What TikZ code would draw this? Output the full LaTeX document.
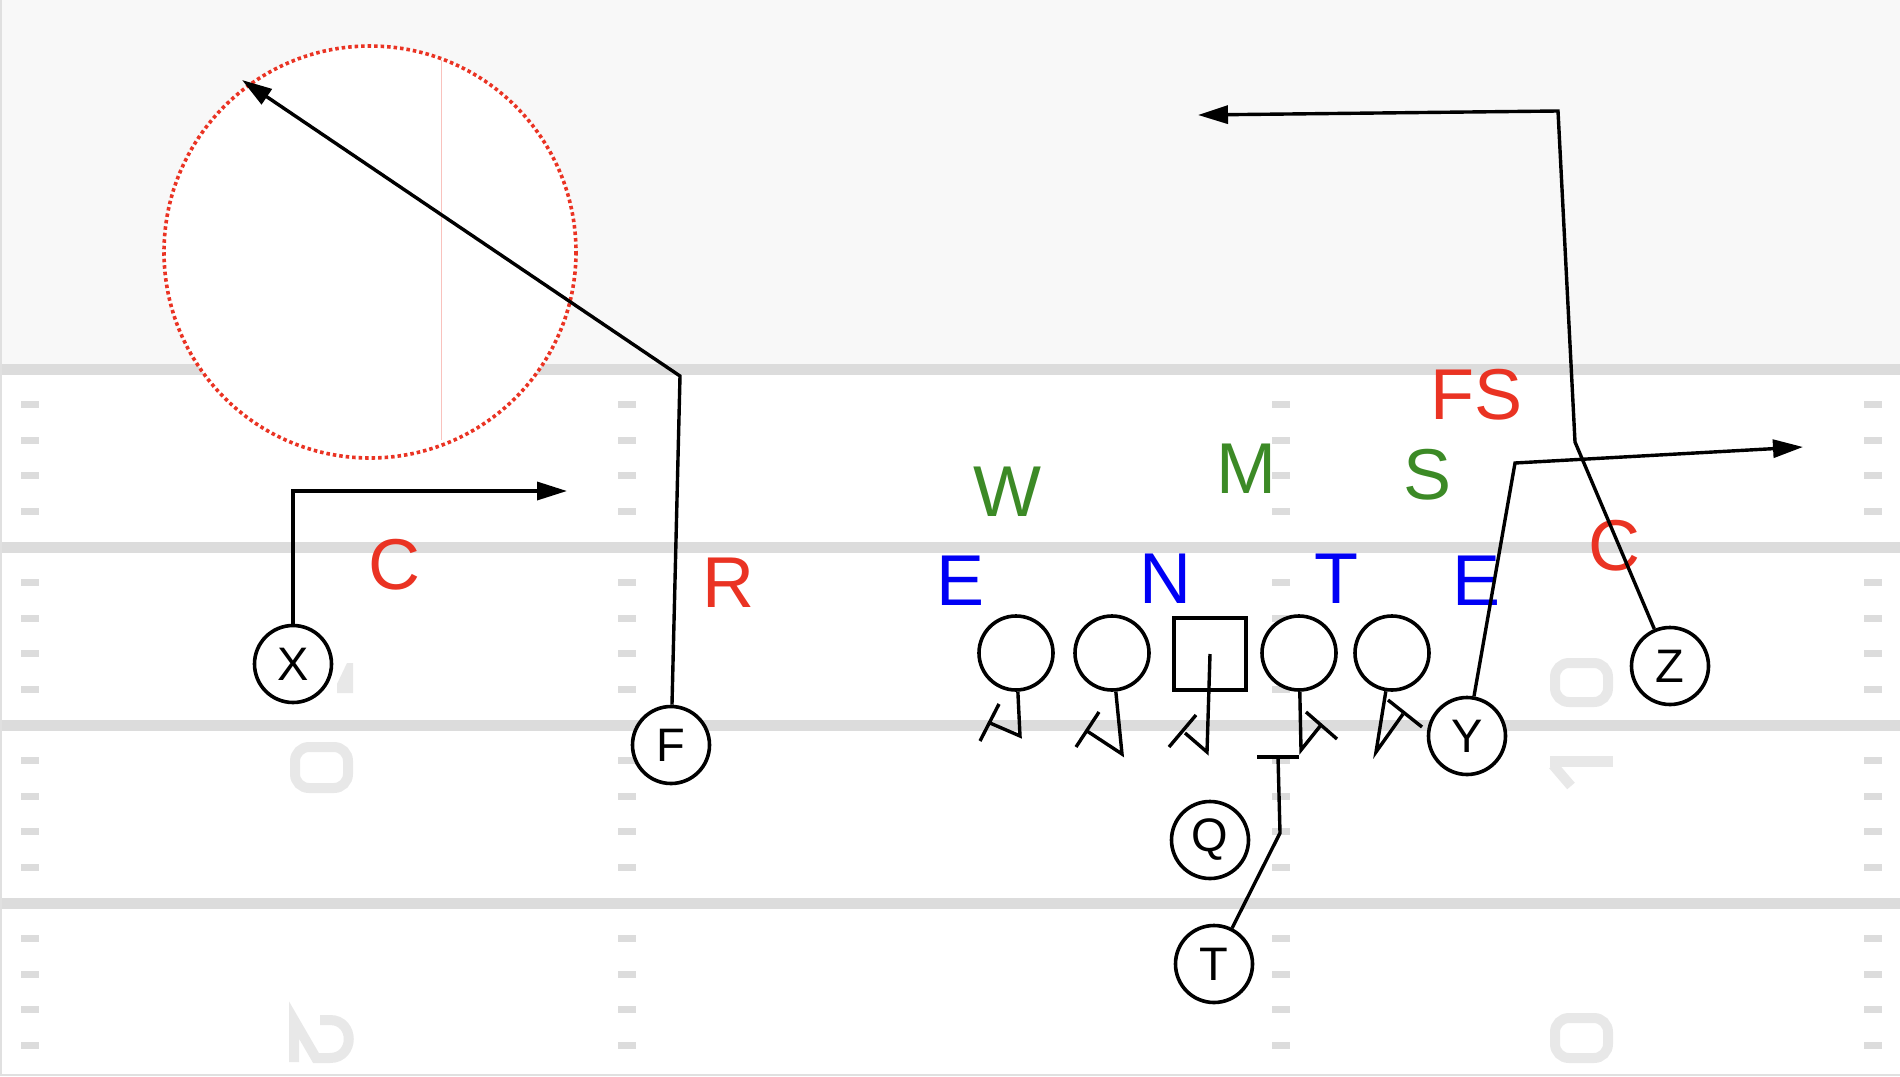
\documentclass[tikz,border=0pt]{standalone}
\usepackage{fontspec}
\setmainfont{Liberation Sans}
\usetikzlibrary{arrows.meta}
\definecolor{cred}{HTML}{EA3323}
\definecolor{cgreen}{HTML}{3C8A26}
\definecolor{cblue}{HTML}{0000F5}
\definecolor{fieldline}{HTML}{DCDCDC}
\definecolor{numgrey}{HTML}{E8E8E8}
\definecolor{topgrey}{HTML}{F8F8F8}
\begin{document}
\begin{tikzpicture}[x=1pt,y=-1pt,
  player/.style={circle, draw=black, line width=3.6pt, fill=white, minimum size=77pt, inner sep=0pt, font=\fontsize{47}{47}\selectfont},
  lineman/.style={circle, draw=black, line width=3.6pt, fill=white, minimum size=74pt, inner sep=0pt},
  snapper/.style={rectangle, draw=black, line width=3.6pt, fill=white, minimum size=72pt, inner sep=0pt},
  deflabel/.style={inner sep=0pt, font=\fontsize{72}{72}\selectfont},
  route/.style={draw=black, line width=3.4pt},
  arr/.style={-{Triangle[length=30pt,width=18pt]}},
  fline/.style={draw=fieldline, line width=11pt},
  num/.style={draw=numgrey, line width=10pt}
]
\useasboundingbox (0,0) rectangle (1900,1076);
% background
\fill[white] (0,0) rectangle (1900,1076);
\fill[topgrey] (0,0) rectangle (1900,369);
% field lines
\foreach \yy in {369,547,725,903} {\draw[fline] (0,\yy) -- (1900,\yy);}
% hash marks
\foreach \xx in {30,627,1281,1873} {
  \foreach \yy in {369,547,725,903} {
    \foreach \k in {1,...,4} {
      \fill[fieldline] ({\xx-9},{\yy+35.6*\k-3.5}) rectangle ++(18,7);
    }
  }
}
\draw[black!12, line width=2pt] (1,0) -- (1,1076);
\draw[black!12, line width=2pt] (0,1075) -- (1900,1075);
% yard numbers (faint)
\fill[numgrey] (337,693) -- (353,693) -- (353,663) -- (347,663) -- (337,684) -- cycle;
\draw[num, rounded corners=14pt] (295,747) rectangle (348,788);
\draw[num, line join=miter] (294,1062) -- (294,1020) -- (316,1058) -- (330,1058) .. controls (355,1058) and (355,1020) .. (330,1020) -- (320,1020);
\draw[num, rounded corners=14pt] (1555,663) rectangle (1608,702);
\draw[num, line width=11pt] (1550,761) -- (1613,761);
\draw[num] (1553,765) -- (1571,786);
\draw[num, rounded corners=14pt] (1555,1018) rectangle (1608,1058);
% zone circle
\draw[cred, line width=3.6pt, dash pattern=on 3.5pt off 3pt, fill=white] (370,252) circle[radius=206];
\draw[cred!30, line width=1pt] (441,60) -- (441,440);
% defensive labels
\node[deflabel, text=cred] (lc1) at (394,565) {C};
\node[deflabel, text=cred] (lr) at (728,583) {R};
\node[deflabel, text=cgreen] (lw) at (1007,492) {W};
\node[deflabel, text=cgreen] (lm) at (1246,469) {M};
\node[deflabel, text=cgreen] (ls) at (1427,475) {S};
\node[deflabel, text=cred] (lfs) at (1476,395) {FS};
\node[deflabel, text=cred] (lc2) at (1614,546) {C};
\node[deflabel, text=cblue] (le1) at (960,581) {E};
\node[deflabel, text=cblue] (ln) at (1165,579) {N};
\node[deflabel, text=cblue] (lt) at (1336,579) {T};
\node[deflabel, text=cblue] (le2) at (1476,581) {E};
% offensive players
\node[player] (X) at (293,664) {X};
\node[player] (F) at (671,745) {F};
\node[player] (Q) at (1210,840) {Q};
\node[player] (T) at (1214,964) {T};
\node[player] (Y) at (1467,736) {Y};
\node[player] (Z) at (1670,666) {Z};
\node[lineman] (c1) at (1016,653) {};
\node[lineman] (c2) at (1112,653) {};
\node[snapper] (sq) at (1210,654) {};
\node[lineman] (c4) at (1299,653) {};
\node[lineman] (c5) at (1392,653) {};
% route coordinates
\coordinate (x1) at (293,491); \coordinate (x2) at (567,491);
\coordinate (f1) at (680,376); \coordinate (f2) at (242,80);
\coordinate (z1) at (1575,442); \coordinate (z2) at (1558,111); \coordinate (z3) at (1198,115);
\coordinate (y1) at (1515,463); \coordinate (y2) at (1803,447);
\coordinate (t1) at (1280,833); \coordinate (t2) at (1278,757);
\coordinate (t3) at (1257,757); \coordinate (t4) at (1299,757);
% routes
\draw[route, arr] (X) -- (x1) -- (x2);
\draw[route, arr] (F) -- (f1) -- (f2);
\draw[route, arr] (Z) -- (z1) -- (z2) -- (z3);
\draw[route, arr] (Y) -- (y1) -- (y2);
\draw[route] (T) -- (t1) -- (t2);
\draw[route] (t3) -- (t4);
% blocks
\coordinate (b1a) at (1020,736); \coordinate (b1b) at (990,723);
\coordinate (b1c) at (980,741); \coordinate (b1d) at (999,704);
\draw[route] (c1) -- (b1a) -- (b1b); \draw[route] (b1c) -- (b1d);
\coordinate (b2a) at (1122,754); \coordinate (b2b) at (1087,731);
\coordinate (b2c) at (1076,747); \coordinate (b2d) at (1099,712);
\draw[route] (c2) -- (b2a) -- (b2b); \draw[route] (b2c) -- (b2d);
\coordinate (b3a) at (1207,752); \coordinate (b3b) at (1185,733);
\coordinate (b3c) at (1169,747); \coordinate (b3d) at (1196,715);
\draw[route] (sq.center) -- (b3a) -- (b3b); \draw[route] (b3c) -- (b3d);
\coordinate (b4a) at (1301,750); \coordinate (b4b) at (1321,725);
\coordinate (b4c) at (1306,712); \coordinate (b4d) at (1337,739);
\draw[route] (c4) -- (b4a) -- (b4b); \draw[route] (b4c) -- (b4d);
\coordinate (b5a) at (1376,752); \coordinate (b5b) at (1403,714);
\coordinate (b5c) at (1388,700); \coordinate (b5d) at (1422,727);
\draw[route] (c5) -- (b5a) -- (b5b); \draw[route] (b5c) -- (b5d);
\end{tikzpicture}
\end{document}
